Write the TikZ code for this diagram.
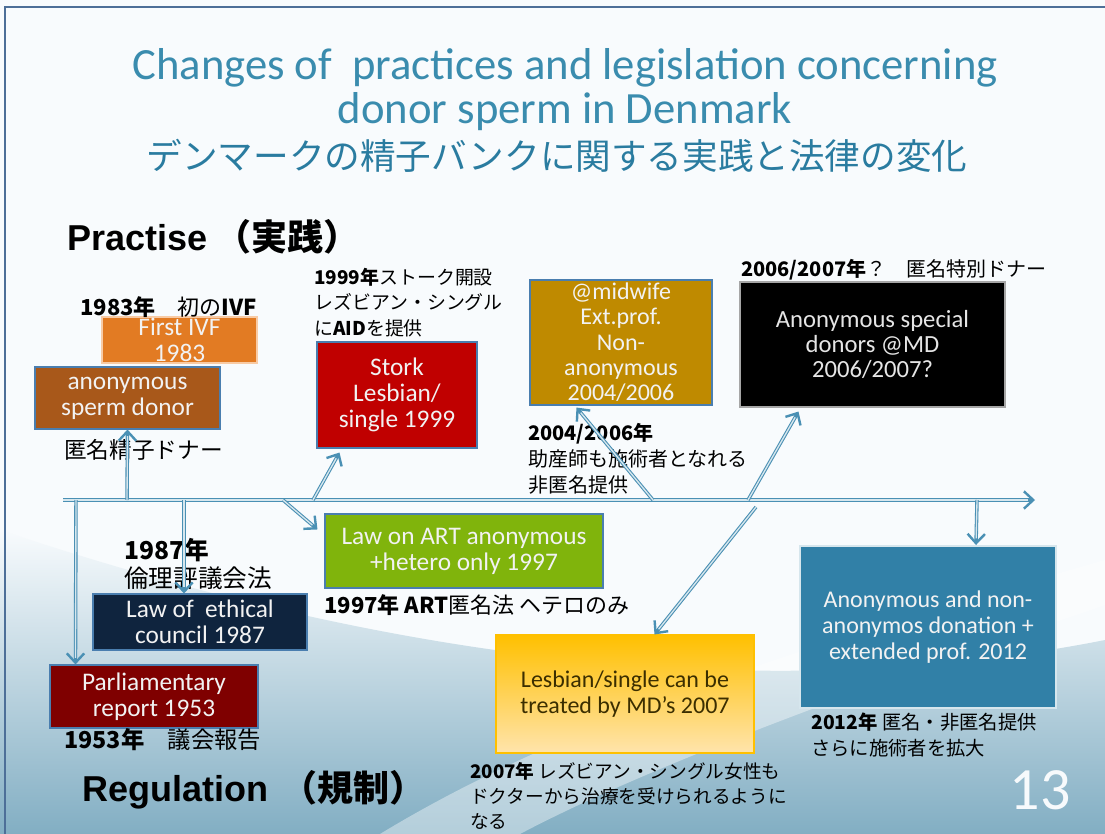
\documentclass[tikz,border=0pt]{standalone}
\usepackage{fontspec}
\setmainfont{Carlito}
\newfontfamily\cjk{Noto Sans CJK JP}
\newfontfamily\arialf{Liberation Sans}
\usetikzlibrary{arrows.meta,calc}
\definecolor{cPage}{HTML}{F8FBFD}
\definecolor{cBgB}{HTML}{82AEC3}
\definecolor{cFrame}{HTML}{4D6F98}
\definecolor{cTitle}{HTML}{3A8CAE}
\definecolor{cTitleJ}{HTML}{2A7CA0}
\definecolor{cLine}{HTML}{4A90B4}
\definecolor{cBord}{HTML}{4A7EAF}
\definecolor{cIVF}{HTML}{E27B23}
\definecolor{cIVFb}{HTML}{F8CBA5}
\definecolor{cAnon}{HTML}{A8581A}
\definecolor{cStork}{HTML}{C00000}
\definecolor{cMid}{HTML}{BF8A00}
\definecolor{cArt}{HTML}{80B40C}
\definecolor{cEth}{HTML}{0F243E}
\definecolor{cParl}{HTML}{7F0000}
\definecolor{cLesT}{HTML}{FFC000}
\definecolor{cLesB}{HTML}{FFE4AC}
\definecolor{cLesTxt}{HTML}{3B2E00}
\definecolor{cBlue}{HTML}{3180A7}
\tikzset{
  x=0.75pt, y=-0.75pt,
  box/.style={draw=cBord, line width=0.8pt, align=center, text=white!95!black, inner sep=0pt,
    font=\fontsize{19}{19.5}\selectfont},
  lab/.style={anchor=west, inner sep=0pt, align=left, text=black},
  conn/.style={draw=cLine, line width=2.6pt,
    -{Straight Barb[length=7pt,width=13pt,line width=1.8pt]},
    postaction={draw=white!78!cLine, line width=1pt, arrows=-, shorten >=5pt}}
}
\begin{document}
\begin{tikzpicture}
% background
\useasboundingbox (0,0) rectangle (1105,834);
\fill[cPage] (0,0) rectangle (1105,834);
\shade[top color=cPage, bottom color=cBgB]
  (0,530) .. controls (300,630) and (700,720) .. (1105,640) -- (1105,834) -- (0,834) -- cycle;
\fill[white, opacity=0.4]
  (380,834) .. controls (600,700) and (900,620) .. (1105,560) -- (1105,605)
  .. controls (900,675) and (660,760) .. (520,834) -- cycle;
\draw[cFrame, line width=1.5pt] (5,834) -- (5,7) -- (1105,7);

% titles
\node[font=\fontsize{33.5}{33}\selectfont, text=cTitle, align=center] (t1) at (565,90)
  {Changes of\ \ practices and legislation concerning\\donor sperm in Denmark};
\node[font=\cjk\fontsize{26.7}{30}\selectfont, text=cTitleJ] (t2) at (557,156)
  {デンマークの精子バンクに関する実践と法律の変化};
\node[lab, font=\fontsize{27}{30}\selectfont] (prac) at (67,237)
  {{\arialf\bfseries Practise}\hspace{6pt}{\cjk\bfseries （実践）}};
\node[lab, font=\fontsize{27}{30}\selectfont] (reg) at (82,790)
  {{\arialf\bfseries Regulation}\hspace{10pt}{\cjk\bfseries （規制）}};
\node[font=\fontsize{45}{45}\selectfont, text=white!96!cTitle] (num) at (1040,790) {13};

% boxes
\node[box, fill=cIVF, draw=cIVFb, minimum width=116.25pt, minimum height=34.5pt] (ivf) at (179.5,340) {First IVF\\1983};
\node[box, fill=cAnon, minimum width=138.75pt, minimum height=46.5pt] (anon) at (127.5,398) {anonymous\\sperm donor};
\node[box, fill=cStork, minimum width=120pt, minimum height=79.5pt] (stork) at (397,395) {Stork\\Lesbian/\\single 1999};
\node[box, fill=cMid, font=\fontsize{18}{19}\selectfont, minimum width=136.5pt, minimum height=93.75pt] (mid) at (621,342.5) {@midwife\\Ext.prof.\\Non-\\anonymous\\2004/2006};
\node[box, fill=black, draw=gray!70, text=gray!20, font=\fontsize{18.5}{19}\selectfont, minimum width=198.75pt, minimum height=93.75pt] (spec) at (872.5,344.5) {Anonymous special\\donors @MD\\2006/2007?};
\node[box, fill=cArt, minimum width=208.5pt, minimum height=55.5pt] (art) at (464,551) {Law on ART anonymous\\+hetero only 1997};
\node[box, fill=cEth, minimum width=160.5pt, minimum height=42pt] (eth) at (200,622) {Law of\ \ ethical\\council 1987};
\node[box, fill=cParl, minimum width=156pt, minimum height=47.25pt] (parl) at (154,696.5) {Parliamentary\\report 1953};
\node[box, top color=cLesT, bottom color=cLesB, draw=cLesT, text=cLesTxt, font=\fontsize{18}{20}\selectfont, minimum width=193.5pt, minimum height=88.5pt] (lesb) at (625,694) {Lesbian/single can be\\treated by MD’s 2007};
\node[box, fill=cBlue, draw=white!80!cBlue, line width=1.5pt, font=\fontsize{18}{19.5}\selectfont, minimum width=192pt, minimum height=121.5pt] (blue) at (928,627) {Anonymous and non-\\anonymos donation +\\extended prof. 2012};

% labels
\node[lab, font=\cjk\fontsize{16.5}{19}\selectfont] (lIVF) at (80,307) {{\bfseries 1983年}　初の{\bfseries IVF}};
\node[lab, font=\cjk\fontsize{17}{19}\selectfont] (lAnon) at (64,450) {匿名精子ドナー};
\node[lab, font=\cjk\fontsize{14.2}{19}\selectfont] (lStork) at (314,302.5) {{\bfseries 1999年}ストーク開設\\レズビアン・シングル\\に{\bfseries AID}を提供};
\node[lab, font=\cjk\fontsize{15}{19.5}\selectfont] (lMid) at (528,459) {{\bfseries 2004/2006年}\\助産師も施術者となれる\\非匿名提供};
\node[lab, font=\cjk\fontsize{15}{19}\selectfont] (lSpec) at (741,270) {{\bfseries 2006/2007年}？　匿名特別ドナー};
\node[lab, font=\cjk\fontsize{16.5}{19}\selectfont] (lArt) at (324,605) {{\bfseries 1997年 ART}匿名法 ヘテロのみ};
\node[lab, font=\cjk\fontsize{18.5}{21}\selectfont] (lEth) at (124,564) {{\bfseries 1987年}\\倫理評議会法};
\node[lab, font=\cjk\fontsize{17.5}{19}\selectfont] (lParl) at (64,740) {{\bfseries 1953年}　議会報告};
\node[lab, font=\cjk\fontsize{14}{18.75}\selectfont] (lLesb) at (470,795.5) {{\bfseries 2007年} レズビアン・シングル女性も\\ドクターから治療を受けられるように\\なる};
\node[lab, font=\cjk\fontsize{14.5}{19.5}\selectfont] (lBlue) at (811,735) {{\bfseries 2012年} 匿名・非匿名提供\\さらに施術者を拡大};

% timeline and connectors
\coordinate (tl0) at (63,500);
\coordinate (tl1) at (1035,500);
\coordinate (sAnon) at (127,500);
\coordinate (sStork) at (313,500);
\coordinate (sArt) at (283,500);
\coordinate (sEth) at (184,500);
\coordinate (sParl) at (76,500);
\coordinate (sMid) at (653,500);
\coordinate (sSpec) at (748,500);
\coordinate (sLesb) at (756,507);
\coordinate (sBlue) at (977,500);
\draw[conn] (tl0) -- (tl1);
\draw[conn] (sAnon) -- (anon.south);
\draw[conn] (sStork) -- ([shift={(23,4)}]stork.south west);
\draw[conn] (sArt) -- ([shift={(-7,16)}]art.north west);
\draw[conn] (sEth) -- ([shift={(-16,0)}]eth.north);
\draw[conn] (sParl) -- ([shift={(26,0)}]parl.north west);
\draw[conn] (sMid) -- ([shift={(47,2)}]mid.south west);
\draw[conn] (sSpec) -- ([shift={(59,4)}]spec.south west);
\draw[conn] (sLesb) -- ([shift={(159,0)}]lesb.north west);
\draw[conn] (sBlue) -- ([shift={(177,0)}]blue.north west);
\end{tikzpicture}
\end{document}
